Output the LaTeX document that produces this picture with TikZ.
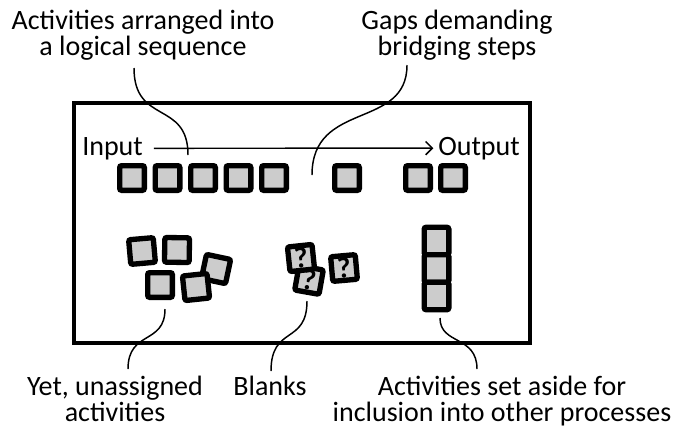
\documentclass[tikz,border=0pt]{standalone}
\usepackage{fontspec}
\setmainfont{Carlito}
\usetikzlibrary{arrows.meta}

\begin{document}
\begin{tikzpicture}[x=0.75pt,y=-0.75pt,
        every node/.style={font=\fontsize{21pt}{19.5pt}\selectfont},
        label/.style={align=center,anchor=base,inner sep=0pt},
        act/.style={draw,line width=4pt,fill=black!20,rounded corners=1.5pt,
            minimum size=18.5pt,inner sep=0pt},
        blank/.style={act,font=\fontsize{22pt}{22pt}\selectfont\bfseries},
        callout/.style={line width=1.1pt}]
    \useasboundingbox (0,0) rectangle (677,426);

    % process frame
    \draw[line width=3.2pt] (74,103) rectangle (530,343);

    % labels (base = last line)
    \node[label] (seq) at (143,55) {Activities arranged into\\a logical sequence};
    \node[label] (gap) at (457,55) {Gaps demanding\\bridging steps};
    \node[label,anchor=base west] (in) at (82,155) {Input};
    \node[label,anchor=base west] (out) at (438,155) {Output};
    \node[label] (unas) at (115,421) {Yet, unassigned\\activities};
    \node[label] (blk) at (270,395) {Blanks};
    \node[label] (aside) at (502,421) {Activities set aside for\\inclusion into other processes};

    \draw[-{Straight Barb[length=5pt,width=10pt]},line width=1.1pt]
        ([xshift=8pt]in.east) -- ([xshift=-3.5pt]out.west);

    % activities in sequence
    \foreach \x [count=\i] in {132,167.5,203,238.5,274}
        \node[act] (s\i) at (\x,178) {};
    \node[act] (s6) at (347,178) {};
    \node[act] (s7) at (418,178) {};
    \node[act] (s8) at (453,178) {};

    % unassigned activities
    \node[act,rotate=5] (u1) at (142,251) {};
    \node[act,rotate=-1] (u2) at (177,250) {};
    \node[act,rotate=-12] (u3) at (216,269) {};
    \node[act] (u4) at (160,285) {};
    \node[act,rotate=6] (u5) at (196,287) {};

    % blanks
    \node[blank,rotate=-10] (b2) at (309,280) {?};
    \node[blank,rotate=6] (b1) at (301,258) {?};
    \node[blank,rotate=5] (b3) at (344,268) {?};

    % set aside
    \foreach \y [count=\i] in {241,268.5,296}
        \node[act,minimum height=20.6pt] (k\i) at (436.5,\y) {};

    % callouts
    \coordinate (seqtop) at (134,68);
    \coordinate (seqend) at (188,155);
    \coordinate (gaptop) at (407,65);
    \coordinate (gapend) at (312,175);
    \coordinate (unastop) at (165,309);
    \coordinate (unasend) at (128,369);
    \coordinate (blktop) at (307,301);
    \coordinate (blkend) at (271,371);
    \coordinate (asidetop) at (440,318);
    \coordinate (asideend) at (477,369);
    \draw[callout] (seqtop) .. controls (134,125) and (188,100) .. (seqend);
    \draw[callout] (gaptop) .. controls (407,130) and (312,100) .. (gapend);
    \draw[callout] (unastop) .. controls (165,345) and (128,330) .. (unasend);
    \draw[callout] (blktop) .. controls (307,345) and (271,325) .. (blkend);
    \draw[callout] (asidetop) .. controls (440,345) and (477,335) .. (asideend);
\end{tikzpicture}
\end{document}
